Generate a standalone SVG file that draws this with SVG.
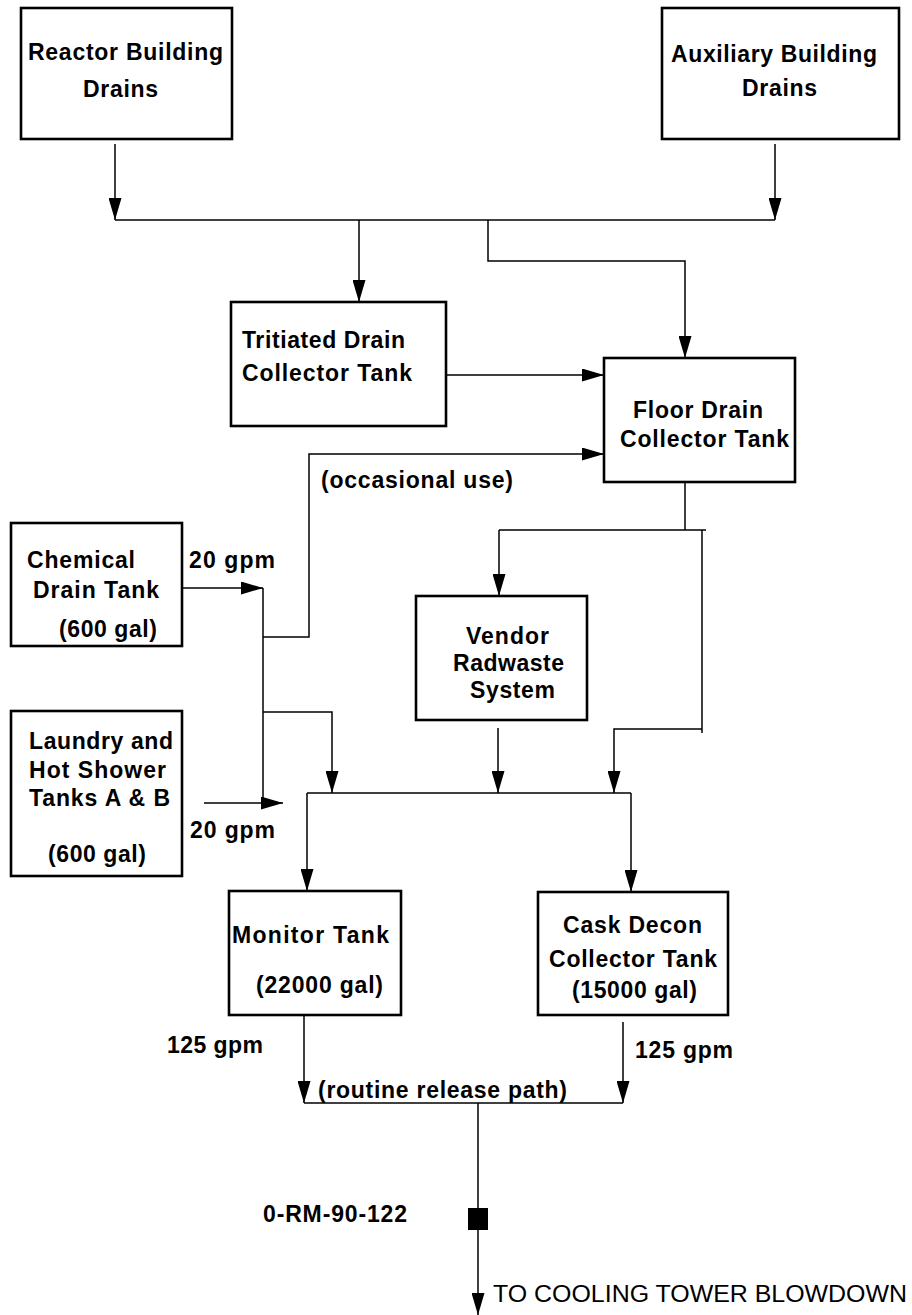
<svg xmlns="http://www.w3.org/2000/svg" width="912" height="1315" viewBox="0 0 912 1315">
<style>
.box{fill:#fff;stroke:#000;stroke-width:2.6}
.t{font-family:"Liberation Sans",Arial,sans-serif;font-weight:bold;font-size:23px;fill:#000}
.n{font-family:"Liberation Sans",Arial,sans-serif;font-size:23px;fill:#000}
.ln{fill:none;stroke:#000;stroke-width:1.5}
</style>
<defs>
<marker id="arr" markerUnits="userSpaceOnUse" viewBox="0 0 22 13" refX="22" refY="6.5" markerWidth="22" markerHeight="13" orient="auto">
<path d="M0,0 L22,6.5 L0,13 z" fill="#000"/>
</marker>
</defs>
<rect width="912" height="1315" fill="#fff"/>

<g id="connectors">
<path class="ln" d="M115,144 V220" marker-end="url(#arr)"/>
<path class="ln" d="M775,144 V220" marker-end="url(#arr)"/>
<path class="ln" d="M115,220 H775"/>
<path class="ln" d="M359,220 V302" marker-end="url(#arr)"/>
<path class="ln" d="M488,220 V261 H685 V358" marker-end="url(#arr)"/>
<path class="ln" d="M446,375 H604" marker-end="url(#arr)"/>
<path class="ln" d="M263,637 H309 V454 H604" marker-end="url(#arr)"/>
<path class="ln" d="M182,588 H263" marker-end="url(#arr)"/>
<path class="ln" d="M263,588 V803"/>
<path class="ln" d="M263,712 H332 V793" marker-end="url(#arr)"/>
<path class="ln" d="M204,803 H283" marker-end="url(#arr)"/>
<path class="ln" d="M685,482 V530 M499,530 H706"/>
<path class="ln" d="M499,530 V596" marker-end="url(#arr)"/>
<path class="ln" d="M702,530 V733"/>
<path class="ln" d="M702,729 H614 V793" marker-end="url(#arr)"/>
<path class="ln" d="M498,728 V793" marker-end="url(#arr)"/>
<path class="ln" d="M307,793 H631"/>
<path class="ln" d="M307,793 V891" marker-end="url(#arr)"/>
<path class="ln" d="M631,793 V892" marker-end="url(#arr)"/>
<path class="ln" d="M304,1015 V1103" marker-end="url(#arr)"/>
<path class="ln" d="M623,1022 V1103" marker-end="url(#arr)"/>
<path class="ln" d="M304,1103 H623"/>
<path class="ln" d="M478,1103 V1315" marker-end="url(#arr)"/>
<text class="t" x="321" y="488" textLength="192" lengthAdjust="spacing">(occasional use)</text>
<text class="t" x="189" y="568" textLength="86" lengthAdjust="spacing">20 gpm</text>
<text class="t" x="190" y="838" textLength="85" lengthAdjust="spacing">20 gpm</text>
<text class="t" x="167" y="1053" textLength="96" lengthAdjust="spacing">125 gpm</text>
<text class="t" x="635" y="1058" textLength="98" lengthAdjust="spacing">125 gpm</text>
<text class="t" x="318" y="1098" textLength="249" lengthAdjust="spacing">(routine release path)</text>
<text class="n" x="493" y="1302" textLength="414" lengthAdjust="spacingAndGlyphs">TO COOLING TOWER BLOWDOWN</text>
</g>

<g id="reactor-building-drains">
<rect class="box" x="21" y="8" width="211" height="131"/>
<text class="t" x="28" y="60" textLength="195" lengthAdjust="spacing">Reactor Building</text>
<text class="t" x="83" y="97" textLength="75" lengthAdjust="spacing">Drains</text>
</g>

<g id="auxiliary-building-drains">
<rect class="box" x="662" y="8" width="237" height="131"/>
<text class="t" x="671" y="62" textLength="206" lengthAdjust="spacing">Auxiliary Building</text>
<text class="t" x="742" y="96" textLength="75" lengthAdjust="spacing">Drains</text>
</g>

<g id="tritiated-drain-collector-tank">
<rect class="box" x="231" y="302" width="215" height="124"/>
<text class="t" x="242" y="348" textLength="163" lengthAdjust="spacing">Tritiated Drain</text>
<text class="t" x="242" y="381" textLength="170" lengthAdjust="spacing">Collector Tank</text>
</g>

<g id="floor-drain-collector-tank">
<rect class="box" x="604" y="358" width="191" height="124"/>
<text class="t" x="633" y="418" textLength="130" lengthAdjust="spacing">Floor Drain</text>
<text class="t" x="620" y="447" textLength="169" lengthAdjust="spacing">Collector Tank</text>
</g>

<g id="chemical-drain-tank">
<rect class="box" x="11" y="523" width="171" height="123"/>
<text class="t" x="27" y="568" textLength="108" lengthAdjust="spacing">Chemical</text>
<text class="t" x="33" y="598" textLength="126" lengthAdjust="spacing">Drain Tank</text>
<text class="t" x="59" y="637" textLength="98" lengthAdjust="spacing">(600 gal)</text>
</g>

<g id="vendor-radwaste-system">
<rect class="box" x="416" y="596" width="171" height="124"/>
<text class="t" x="466" y="644" textLength="83" lengthAdjust="spacing">Vendor</text>
<text class="t" x="453" y="671" textLength="111" lengthAdjust="spacing">Radwaste</text>
<text class="t" x="470" y="698" textLength="85" lengthAdjust="spacing">System</text>
</g>

<g id="laundry-hot-shower-tanks">
<rect class="box" x="11" y="711" width="171" height="165"/>
<text class="t" x="29" y="749" textLength="144" lengthAdjust="spacing">Laundry and</text>
<text class="t" x="29" y="778" textLength="137" lengthAdjust="spacing">Hot Shower</text>
<text class="t" x="29" y="806" textLength="141" lengthAdjust="spacing">Tanks A &amp; B</text>
<text class="t" x="48" y="862" textLength="98" lengthAdjust="spacing">(600 gal)</text>
</g>

<g id="monitor-tank">
<rect class="box" x="229" y="891" width="172" height="124"/>
<text class="t" x="232" y="943" textLength="157" lengthAdjust="spacing">Monitor Tank</text>
<text class="t" x="256" y="993" textLength="127" lengthAdjust="spacing">(22000 gal)</text>
</g>

<g id="cask-decon-collector-tank">
<rect class="box" x="538" y="892" width="190" height="123"/>
<text class="t" x="563" y="933" textLength="139" lengthAdjust="spacing">Cask Decon</text>
<text class="t" x="549" y="967" textLength="168" lengthAdjust="spacing">Collector Tank</text>
<text class="t" x="572" y="998" textLength="125" lengthAdjust="spacing">(15000 gal)</text>
</g>

<g id="rm-90-122">
<rect x="468" y="1208" width="20" height="22" fill="#000"/>
<text class="t" x="263" y="1222" textLength="144" lengthAdjust="spacing">0-RM-90-122</text>
</g>
</svg>
